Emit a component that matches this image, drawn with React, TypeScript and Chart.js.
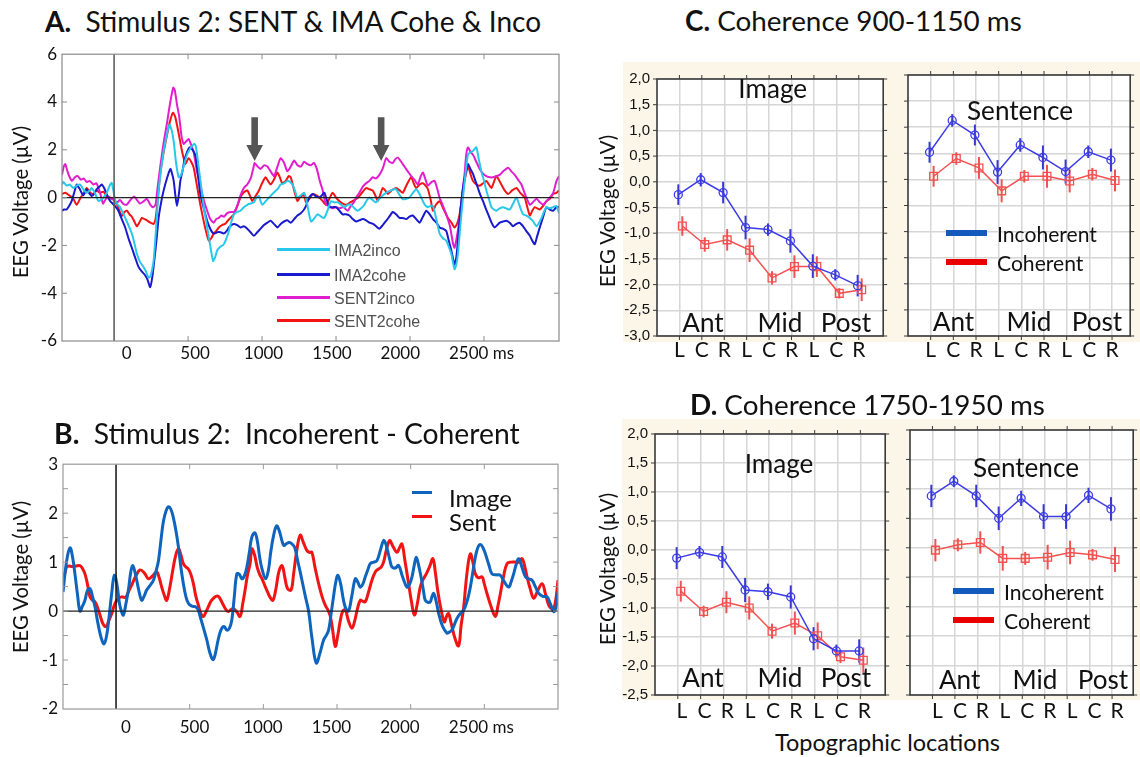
import React, { useEffect, useRef } from 'react';
import { Chart, registerables } from 'chart.js';

Chart.register(...registerables);

type Pt = [number, number];

// ---------------- Panel A : Stimulus 2 ERPs (time ms, µV) ----------------
const aIMA2inco: Pt[] = [
  [-352, 0.55], [-344, 0.65], [-321, 0.5], [-300, 0.55], [-276, 0.4], [-253, 0.5], [-231, 0.55], [-208, 0.35],
  [-185, 0.2], [-165, 0.3], [-152, 0.4], [-130, 0.2], [-106, -0.14], [-90, -0.1], [-72, 0.0], [-50, 0.2],
  [-30, 0.5], [-16, 0.62], [-5, 0.3], [7, -0.1], [25, -0.3], [41, -0.4], [64, -0.7], [86, -1.0], [103, -1.25],
  [120, -1.5], [137, -1.9], [154, -2.35], [176, -2.7], [199, -2.9], [216, -3.1], [233, -3.35], [245, -3.3],
  [256, -3.05], [268, -2.6], [278, -1.8], [290, -0.7], [301, 0.3], [318, 1.2], [335, 1.95], [355, 2.6],
  [375, 3.05], [390, 2.8], [403, 2.35], [418, 1.5], [436, 0.85], [448, 0.9], [459, 1.05], [476, 1.45],
  [493, 1.8], [510, 2.0], [527, 2.15], [540, 2.25], [550, 2.2], [561, 1.8], [572, 1.25], [590, 0.4],
  [606, -0.4], [623, -1.0], [640, -1.65], [655, -2.2], [669, -2.65], [683, -2.5], [697, -2.2], [720, -2.05],
  [742, -1.95], [760, -1.7], [776, -1.4], [793, -1.0], [810, -0.7], [832, -0.6], [855, -0.55], [877, -0.4],
  [900, -0.3], [922, -0.25], [945, -0.2], [962, 0.0], [979, 0.07], [990, -0.15], [1002, -0.3], [1025, -0.15],
  [1047, 0.0], [1070, 0.15], [1092, 0.28], [1110, 0.4], [1126, 0.55], [1150, 0.6], [1171, 0.7], [1190, 0.65],
  [1205, 0.55], [1222, 0.3], [1239, 0.0], [1262, 0.1], [1285, 0.2], [1300, -0.1], [1315, -0.6], [1331, -1.0],
  [1355, -0.85], [1376, -0.7], [1400, -0.8], [1421, -0.85], [1445, -0.5], [1466, -0.15], [1490, -0.2],
  [1511, -0.2], [1535, -0.3], [1556, -0.4], [1580, -0.3], [1601, -0.3], [1625, -0.45], [1646, -0.55],
  [1670, -0.45], [1691, -0.3], [1710, -0.1], [1725, 0.0], [1748, -0.1], [1770, -0.2], [1800, 0.0], [1827, 0.15],
  [1850, 0.25], [1872, 0.3], [1890, 0.35], [1906, 0.35], [1930, 0.1], [1951, -0.07], [1975, -0.05], [1996, 0.0],
  [2020, 0.2], [2042, 0.35], [2060, 0.2], [2076, 0.0], [2100, -0.3], [2121, -0.4], [2140, -0.35], [2155, -0.35],
  [2178, -0.9], [2200, -1.5], [2222, -1.7], [2245, -1.8], [2265, -2.1], [2279, -2.35], [2301, -3.0], [2313, -2.8],
  [2324, -2.35], [2340, -1.2], [2358, 0.0], [2375, 1.0], [2392, 1.8], [2410, 1.9], [2425, 1.95], [2448, 2.1],
  [2465, 1.6], [2482, 1.1], [2500, 0.7], [2516, 0.3], [2533, -0.05], [2550, -0.4], [2567, -0.5], [2584, -0.55],
  [2606, -0.45], [2629, -0.4], [2650, -0.45], [2674, -0.5], [2697, -0.25], [2719, 0.0], [2741, -0.35],
  [2764, -0.7], [2787, -0.75], [2810, -0.85], [2833, -1.0], [2855, -1.2], [2872, -1.05], [2889, -0.85],
  [2905, -0.6], [2922, -0.4], [2945, -0.45], [2967, -0.4], [2990, -0.35], [3007, -0.65],
];

const aIMA2cohe: Pt[] = [
  [-352, -0.55], [-338, -0.5], [-321, -0.5], [-304, -0.35], [-287, -0.15], [-270, 0.2], [-253, 0.55], [-242, 0.45],
  [-231, 0.35], [-220, 0.2], [-208, 0.1], [-197, 0.2], [-185, 0.35], [-170, 0.2], [-152, 0.07], [-135, 0.15],
  [-118, 0.35], [-100, 0.45], [-84, 0.55], [-67, 0.4], [-50, 0.14], [-27, -0.14], [-5, -0.28], [12, -0.4],
  [29, -0.55], [52, -0.9], [75, -1.25], [97, -1.7], [120, -2.1], [142, -2.5], [165, -2.9], [188, -3.1],
  [210, -3.25], [227, -3.45], [244, -3.75], [259, -3.3], [274, -2.5], [288, -1.7], [301, -0.85], [318, -0.2],
  [335, 0.3], [357, 0.8], [380, 1.2], [392, 1.0], [403, 0.7], [414, 0.1], [425, -0.35], [437, 0.1], [448, 0.7],
  [462, 1.1], [475, 1.55], [493, 1.9], [511, 2.1], [530, 2.0], [550, 1.75], [566, 1.0], [583, 0.15], [606, -0.45],
  [629, -0.97], [646, -1.25], [663, -1.45], [680, -1.5], [697, -1.45], [720, -1.45], [742, -1.5], [760, -1.4],
  [776, -1.25], [793, -1.15], [810, -1.1], [832, -1.15], [855, -1.25], [877, -1.2], [900, -1.3], [922, -1.45],
  [945, -1.6], [968, -1.45], [990, -1.3], [1013, -1.15], [1036, -1.05], [1058, -0.97], [1080, -1.1],
  [1104, -1.25], [1126, -1.1], [1149, -1.0], [1171, -0.95], [1194, -1.05], [1217, -0.9], [1239, -0.75],
  [1262, -0.65], [1284, -0.5], [1300, -0.3], [1318, 0.0], [1342, 0.15], [1365, 0.05], [1387, 0.0], [1405, 0.1],
  [1421, 0.2], [1438, -0.1], [1455, -0.4], [1477, -0.4], [1500, -0.4], [1523, -0.55], [1545, -0.7], [1568, -0.7],
  [1590, -0.75], [1613, -0.9], [1635, -1.0], [1658, -0.95], [1681, -0.9], [1703, -0.95], [1726, -1.05],
  [1750, -1.1], [1771, -1.2], [1793, -1.3], [1816, -1.15], [1839, -0.97], [1860, -0.8], [1884, -0.6],
  [1906, -0.7], [1929, -0.85], [1951, -0.85], [1974, -0.9], [1996, -0.8], [2019, -0.75], [2042, -0.9],
  [2065, -1.05], [2087, -0.8], [2110, -0.55], [2133, -0.7], [2155, -0.9], [2178, -1.05], [2200, -1.25],
  [2222, -1.3], [2245, -1.4], [2262, -1.8], [2279, -2.2], [2301, -2.8], [2313, -2.5], [2324, -1.8], [2340, -0.6],
  [2358, 0.4], [2375, 1.0], [2392, 1.4], [2408, 1.2], [2425, 1.0], [2442, 0.7], [2459, 0.4], [2476, 0.1],
  [2493, -0.14], [2515, -0.5], [2538, -0.85], [2555, -1.1], [2572, -1.25], [2590, -1.15], [2606, -1.05],
  [2629, -1.0], [2651, -0.97], [2674, -1.05], [2696, -1.2], [2719, -1.1], [2741, -1.05], [2764, -1.2],
  [2786, -1.4], [2810, -1.6], [2826, -1.8], [2843, -1.95], [2860, -1.6], [2877, -1.25], [2900, -0.8],
  [2922, -0.4], [2945, -0.5], [2967, -0.55], [2990, -0.4], [3007, -0.4],
];

const aSENT2inco: Pt[] = [
  [-352, 0.95], [-340, 1.3], [-330, 1.4], [-315, 1.1], [-300, 0.85], [-285, 0.7], [-265, 0.85], [-245, 0.9],
  [-225, 0.75], [-205, 0.8], [-185, 0.65], [-165, 0.7], [-140, 0.55], [-120, 0.6], [-105, 0.4], [-90, 0.1],
  [-75, -0.25], [-60, -0.1], [-40, 0.05], [-20, -0.05], [0, -0.1], [20, -0.2], [40, -0.1], [60, -0.25],
  [85, -0.3], [110, -0.1], [135, 0.05], [155, -0.1], [175, -0.25], [200, -0.15], [222, -0.05], [245, -0.3],
  [265, -0.4], [280, -0.3], [292, 0.3], [312, 1.3], [335, 2.3], [357, 3.1], [380, 4.0], [400, 4.6], [410, 4.5],
  [425, 3.9], [440, 3.4], [455, 2.6], [470, 2.25], [487, 2.35], [504, 2.45], [521, 2.2], [538, 1.9], [560, 1.1],
  [583, 0.5], [606, -0.1], [629, -0.55], [650, -0.9], [674, -1.05], [690, -0.9], [708, -0.85], [725, -0.75],
  [742, -0.8], [765, -0.65], [787, -0.6], [810, -0.6], [832, -0.35], [855, 0.1], [877, 0.4], [900, 0.55],
  [923, 0.8], [940, 1.2], [950, 1.45], [970, 1.3], [990, 1.2], [1013, 1.35], [1036, 1.3], [1058, 1.1],
  [1081, 0.9], [1104, 1.3], [1126, 1.65], [1149, 1.45], [1171, 1.1], [1194, 1.3], [1217, 1.55], [1240, 1.35],
  [1262, 1.3], [1285, 1.5], [1307, 1.4], [1330, 1.35], [1350, 1.45], [1370, 1.2], [1390, 0.7], [1410, 0.3],
  [1432, -0.3], [1455, -0.35], [1477, -0.45], [1500, -0.4], [1523, -0.45], [1550, -0.4], [1579, -0.55],
  [1600, -0.35], [1620, -0.2], [1640, 0.05], [1658, 0.2], [1680, 0.45], [1703, 0.6], [1725, 0.7], [1748, 0.85],
  [1770, 0.8], [1793, 0.95], [1815, 1.2], [1839, 1.65], [1860, 1.5], [1884, 1.45], [1900, 1.6], [1917, 1.67],
  [1940, 1.5], [1962, 1.3], [1985, 1.1], [2008, 0.9], [2030, 0.75], [2053, 0.55], [2070, 0.85], [2087, 1.05],
  [2105, 0.75], [2121, 0.5], [2145, 0.65], [2166, 0.7], [2185, 0.35], [2200, 0.0], [2220, -0.3], [2245, -0.7],
  [2270, -1.2], [2290, -1.9], [2301, -2.1], [2315, -1.7], [2335, -0.9], [2350, 0.0], [2369, 1.0], [2380, 1.8],
  [2392, 2.1], [2410, 1.9], [2425, 1.8], [2448, 1.5], [2471, 1.2], [2494, 1.0], [2516, 0.9], [2540, 0.85],
  [2561, 0.85], [2585, 0.9], [2606, 0.95], [2630, 1.1], [2663, 1.25], [2685, 1.1], [2708, 0.95], [2730, 0.75],
  [2753, 0.55], [2780, 0.1], [2810, -0.3], [2830, -0.2], [2855, -0.05], [2878, -0.2], [2900, -0.3],
  [2922, -0.15], [2945, 0.0], [2968, 0.2], [2990, 0.7], [3007, 0.9],
];

const aSENT2cohe: Pt[] = [
  [-352, 0.15], [-330, 0.2], [-305, 0.1], [-280, 0.0], [-253, -0.3], [-230, -0.05], [-205, 0.2], [-185, 0.4],
  [-160, 0.2], [-140, 0.15], [-118, 0.3], [-95, 0.2], [-72, 0.25], [-50, 0.05], [-25, 0.0], [-5, -0.07],
  [20, -0.3], [52, -0.76], [70, -0.6], [86, -0.55], [104, -0.7], [120, -0.8], [137, -1.0], [154, -1.2],
  [170, -1.05], [188, -0.85], [205, -0.9], [222, -0.95], [245, -1.05], [267, -1.1], [280, -0.9], [290, -0.4],
  [312, 1.0], [335, 1.9], [357, 2.6], [378, 3.2], [398, 3.55], [412, 3.4], [425, 3.05], [442, 2.5], [459, 1.95],
  [472, 1.6], [482, 1.4], [494, 1.55], [504, 1.65], [521, 1.5], [538, 1.25], [560, 0.5], [583, -0.3],
  [606, -1.0], [625, -1.5], [640, -1.8], [657, -1.7], [674, -1.5], [690, -1.4], [708, -1.25], [730, -1.15],
  [750, -1.1], [764, -1.0], [787, -0.85], [810, -0.7], [830, -0.4], [850, -0.05], [866, 0.14], [883, 0.25],
  [900, 0.3], [917, 0.1], [934, -0.14], [955, 0.05], [979, 0.3], [1000, 0.6], [1024, 0.85], [1040, 0.7],
  [1058, 0.55], [1080, 0.75], [1104, 1.05], [1120, 0.85], [1137, 0.6], [1160, 0.7], [1180, 0.9], [1194, 0.85],
  [1215, 0.35], [1239, -0.14], [1260, 0.05], [1284, 0.1], [1297, -0.2], [1320, -0.05], [1342, 0.15],
  [1365, 0.1], [1387, 0.0], [1410, -0.15], [1432, -0.3], [1455, -0.05], [1477, 0.2], [1500, 0.0], [1523, -0.15],
  [1545, -0.25], [1568, -0.3], [1596, -0.2], [1624, -0.1], [1650, 0.0], [1675, 0.2], [1703, 0.4], [1725, 0.35],
  [1748, 0.3], [1765, 0.1], [1782, -0.14], [1800, 0.15], [1816, 0.4], [1833, 0.3], [1850, 0.15], [1875, 0.3],
  [1906, 0.4], [1930, 0.3], [1951, 0.2], [1975, 0.5], [2008, 0.85], [2025, 0.6], [2042, 0.4], [2065, 0.55],
  [2087, 0.6], [2105, 0.5], [2121, 0.35], [2140, -0.1], [2155, -0.55], [2175, -0.3], [2200, -0.15],
  [2228, -0.5], [2256, -0.85], [2280, -1.05], [2301, -1.25], [2318, -1.1], [2335, -0.7], [2350, -0.1],
  [2369, 0.7], [2392, 1.3], [2408, 1.0], [2425, 0.7], [2448, 0.55], [2471, 0.5], [2494, 0.6], [2516, 0.7],
  [2533, 0.55], [2550, 0.4], [2567, 0.65], [2584, 0.9], [2600, 0.75], [2617, 0.55], [2640, 0.3], [2663, 0.15],
  [2690, 0.3], [2719, 0.4], [2745, 0.2], [2775, 0.0], [2793, -0.4], [2810, -0.75], [2826, -0.55], [2843, -0.4],
  [2860, -0.45], [2877, -0.5], [2900, -0.35], [2922, -0.15], [2945, -0.05], [2967, 0.15], [2990, 0.2],
  [3007, 0.3],
];

// ---------------- Panel B : Incoherent - Coherent difference waves ----------------
const bImage: Pt[] = [
  [-360, 0.39], [-335, 1.03], [-312, 1.29], [-295, 1.1], [-279, 0.76], [-262, 0.35], [-245, 0.0], [-228, 0.1],
  [-211, 0.22], [-194, 0.42], [-177, 0.46], [-160, 0.3], [-143, 0.09], [-126, -0.2], [-109, -0.45], [-95, -0.6],
  [-82, -0.67], [-67, -0.55], [-52, -0.25], [-30, 0.35], [-11, 0.73], [6, 0.55], [23, 0.16], [38, -0.02],
  [50, -0.08], [67, 0.15], [84, 0.43], [100, 0.8], [113, 0.93], [128, 0.8], [145, 0.56], [160, 0.35], [174, 0.22],
  [190, 0.3], [208, 0.43], [230, 0.52], [254, 0.63], [270, 0.8], [288, 1.03], [305, 1.45], [322, 1.84],
  [340, 2.05], [356, 2.13], [372, 2.08], [389, 1.91], [406, 1.65], [424, 1.3], [440, 0.9], [457, 0.56],
  [474, 0.3], [491, 0.16], [515, 0.1], [537, 0.09], [555, 0.04], [571, -0.11], [594, -0.35], [616, -0.59],
  [637, -0.85], [657, -0.99], [670, -0.92], [684, -0.72], [700, -0.5], [718, -0.35], [735, -0.32], [752, -0.39],
  [770, -0.35], [786, -0.18], [803, 0.3], [820, 0.76], [837, 0.75], [854, 0.66], [871, 0.72], [888, 0.9],
  [905, 1.2], [922, 1.51], [942, 1.6], [958, 1.45], [975, 1.1], [991, 0.86], [1016, 0.66], [1035, 0.85],
  [1050, 1.2], [1070, 1.55], [1090, 1.74], [1110, 1.62], [1125, 1.45], [1139, 1.34], [1158, 1.38], [1176, 1.4],
  [1195, 1.37], [1213, 1.3], [1235, 1.0], [1250, 0.8], [1262, 0.63], [1285, 0.3], [1307, 0.0], [1330, -0.55],
  [1359, -1.06], [1385, -0.85], [1409, -0.59], [1426, -0.5], [1443, -0.39], [1460, -0.05], [1476, 0.29],
  [1492, 0.6], [1506, 0.73], [1525, 0.55], [1544, 0.22], [1560, 0.05], [1578, 0.0], [1600, 0.3], [1624, 0.66],
  [1640, 0.6], [1658, 0.49], [1675, 0.55], [1692, 0.7], [1710, 0.85], [1726, 0.97], [1750, 1.0], [1771, 1.03],
  [1795, 1.25], [1816, 1.44], [1830, 1.38], [1843, 1.24], [1858, 1.05], [1873, 0.9], [1895, 0.88], [1918, 0.93],
  [1945, 0.7], [1975, 0.49], [1993, 0.55], [2009, 0.7], [2025, 0.95], [2038, 1.1], [2053, 0.95], [2070, 0.7],
  [2085, 0.45], [2099, 0.22], [2116, 0.18], [2133, 0.19], [2145, 0.3], [2156, 0.36], [2173, 0.2], [2190, -0.05],
  [2215, -0.3], [2246, -0.45], [2262, -0.43], [2280, -0.39], [2296, -0.28], [2314, -0.15], [2337, -0.05],
  [2360, 0.02], [2383, 0.2], [2405, 0.49], [2422, 0.8], [2439, 1.1], [2456, 1.3], [2473, 1.36], [2490, 1.3],
  [2507, 1.17], [2530, 0.95], [2552, 0.76], [2580, 0.74], [2609, 0.73], [2635, 0.6], [2665, 0.49], [2682, 0.6],
  [2699, 0.76], [2716, 0.95], [2733, 1.07], [2755, 0.9], [2779, 0.7], [2800, 0.66], [2824, 0.63], [2846, 0.5],
  [2869, 0.36], [2897, 0.3], [2926, 0.29], [2948, 0.15], [2971, -0.01], [2988, 0.1], [3000, 0.39],
];

const bSent: Pt[] = [
  [-360, 0.63], [-345, 0.8], [-335, 0.9], [-318, 0.92], [-301, 0.91], [-273, 0.92], [-245, 0.93], [-228, 0.87],
  [-211, 0.76], [-194, 0.55], [-177, 0.29], [-160, 0.22], [-143, 0.19], [-126, 0.08], [-109, -0.08],
  [-90, -0.25], [-68, -0.32], [-50, -0.2], [-29, -0.05], [-12, 0.12], [5, 0.22], [22, 0.27], [38, 0.29],
  [55, 0.28], [68, 0.29], [88, 0.42], [106, 0.53], [135, 0.72], [163, 0.84], [192, 0.78], [220, 0.66],
  [248, 0.72], [276, 0.8], [293, 0.68], [310, 0.49], [327, 0.33], [344, 0.22], [366, 0.5], [389, 0.9],
  [406, 1.15], [424, 1.28], [440, 1.15], [457, 0.97], [474, 0.9], [491, 0.86], [508, 0.75], [525, 0.56],
  [542, 0.3], [559, 0.12], [576, -0.05], [593, -0.11], [610, -0.02], [627, 0.09], [644, 0.2], [661, 0.26],
  [678, 0.3], [695, 0.3], [712, 0.22], [729, 0.12], [746, 0.03], [763, -0.01], [780, 0.03], [797, 0.05],
  [820, -0.02], [842, -0.11], [860, 0.15], [876, 0.43], [893, 0.75], [910, 0.97], [922, 1.27], [940, 1.15],
  [958, 0.9], [975, 0.75], [991, 0.66], [1010, 0.52], [1030, 0.38], [1048, 0.27], [1065, 0.22], [1085, 0.45],
  [1105, 0.8], [1127, 0.93], [1145, 0.7], [1164, 0.46], [1188, 0.43], [1205, 0.75], [1225, 1.2], [1250, 1.55],
  [1272, 1.4], [1295, 1.24], [1312, 1.2], [1329, 1.2], [1350, 0.9], [1375, 0.56], [1398, 0.3], [1420, 0.12],
  [1437, 0.03], [1454, -0.1], [1471, -0.4], [1488, -0.72], [1505, -0.5], [1522, -0.2], [1539, 0.0],
  [1556, 0.02], [1578, -0.2], [1601, -0.35], [1620, -0.2], [1639, 0.05], [1658, 0.22], [1675, 0.2],
  [1692, 0.19], [1715, 0.4], [1737, 0.63], [1760, 0.8], [1782, 0.86], [1800, 0.9], [1816, 1.0], [1835, 1.25],
  [1857, 1.44], [1880, 1.32], [1907, 1.2], [1925, 1.3], [1941, 1.37], [1960, 1.05], [1986, 0.56], [2005, 0.2],
  [2025, -0.08], [2045, 0.15], [2065, 0.49], [2085, 0.65], [2106, 0.76], [2130, 0.92], [2151, 1.07],
  [2167, 0.8], [2183, 0.43], [2205, 0.05], [2228, -0.22], [2242, -0.12], [2257, -0.05], [2275, -0.25],
  [2300, -0.55], [2325, -0.71], [2342, -0.3], [2360, 0.09], [2383, 0.8], [2405, 1.17], [2422, 1.0], [2439, 0.76],
  [2460, 0.68], [2484, 0.7], [2500, 0.55], [2518, 0.36], [2545, 0.1], [2575, -0.11], [2592, 0.1], [2609, 0.36],
  [2630, 0.7], [2654, 0.97], [2680, 1.0], [2711, 1.0], [2735, 1.0], [2756, 1.07], [2775, 0.9], [2790, 0.7],
  [2812, 0.45], [2835, 0.26], [2860, 0.4], [2892, 0.56], [2915, 0.35], [2937, 0.12], [2955, 0.05], [2971, 0.05],
  [2988, 0.3], [3000, 0.63],
];

const timeTicks = [0, 500, 1000, 1500, 2000, 2500];
const timeUnit = ' ms';
const arrowTimes = [950, 1805];
const arrowLevels = [3.36, 2.2, 1.53]; // shaft top, head base, tip (µV)

// ---------------- Panels C & D : topographic means ± error ----------------
const locLabels = ['L', 'C', 'R', 'L', 'C', 'R', 'L', 'C', 'R'];
const regionLabels = ['Ant', 'Mid', 'Post'];

const cImageIncoherent = [-0.25, 0.04, -0.21, -0.89, -0.93, -1.15, -1.64, -1.81, -2.02];
const cImageIncoherentErr = [0.2, 0.13, 0.21, 0.23, 0.12, 0.23, 0.23, 0.11, 0.21];
const cImageCoherent = [-0.86, -1.22, -1.13, -1.33, -1.87, -1.65, -1.65, -2.17, -2.1];
const cImageCoherentErr = [0.19, 0.14, 0.21, 0.23, 0.13, 0.22, 0.2, 0.1, 0.22];
const cSentIncoherent = [0.52, 1.13, 0.85, 0.14, 0.66, 0.42, 0.15, 0.53, 0.37];
const cSentIncoherentErr = [0.2, 0.12, 0.2, 0.23, 0.13, 0.23, 0.23, 0.12, 0.22];
const cSentCoherent = [0.06, 0.4, 0.22, -0.22, 0.06, 0.06, -0.03, 0.1, -0.02];
const cSentCoherentErr = [0.2, 0.12, 0.21, 0.22, 0.12, 0.22, 0.22, 0.12, 0.21];

const dImageIncoherent = [-0.14, -0.04, -0.12, -0.69, -0.72, -0.81, -1.53, -1.74, -1.74];
const dImageIncoherentErr = [0.19, 0.11, 0.19, 0.21, 0.14, 0.2, 0.2, 0.11, 0.2];
const dImageCoherent = [-0.71, -1.06, -0.9, -1.0, -1.4, -1.26, -1.48, -1.84, -1.9];
const dImageCoherentErr = [0.18, 0.1, 0.19, 0.2, 0.13, 0.2, 0.23, 0.11, 0.22];
const dSentIncoherent = [0.88, 1.13, 0.88, 0.5, 0.84, 0.53, 0.53, 0.89, 0.66];
const dSentIncoherentErr = [0.19, 0.1, 0.19, 0.2, 0.13, 0.21, 0.21, 0.13, 0.2];
const dSentCoherent = [-0.04, 0.05, 0.09, -0.18, -0.18, -0.16, -0.08, -0.12, -0.2];
const dSentCoherentErr = [0.19, 0.11, 0.19, 0.21, 0.11, 0.21, 0.2, 0.1, 0.21];

// ---------------- styling ----------------
const FONT = 'Lato, "Open Sans", sans-serif';
const ARIAL = '"Liberation Sans", Arial, sans-serif';
const BEIGE = '#fcf6e9';
const CYAN = 'rgb(40,200,235)';
const NAVY = 'rgb(25,25,205)';
const MAGENTA = 'rgb(225,30,205)';
const RED = 'rgb(240,20,20)';
const B_BLUE = 'rgb(15,100,190)';
const CAT_BLUE = 'rgb(60,60,230)';
const CAT_RED = 'rgb(245,80,80)';

// ---------------- helpers ----------------
let mctx: CanvasRenderingContext2D | null = null;
function textW(text: string, weight: number, family: string): number {
  if (!mctx) mctx = document.createElement('canvas').getContext('2d');
  mctx!.font = `${weight} 100px ${family}`;
  return mctx!.measureText(text).width;
}
function fit(parts: [string, number][], family: string, target: number): number {
  const w = parts.reduce((s, [t, wt]) => s + textW(t, wt, family), 0);
  return (100 * target) / w;
}

type Plot = { l: number; t: number; r: number; b: number };
function frameBox(p: Plot, yW: number, xH: number, padTop: number, padRight: number) {
  return { left: p.l - yW, top: p.t - padTop, width: p.r - p.l + yW + padRight, height: p.b - p.t + padTop + xH };
}

function line(ctx: CanvasRenderingContext2D, x1: number, y1: number, x2: number, y2: number) {
  ctx.beginPath();
  ctx.moveTo(x1, y1);
  ctx.lineTo(x2, y2);
  ctx.stroke();
}

const eegFramePlugin = {
  id: 'eegFrame',
  afterDatasetsDraw(chart: any, _a: any, o: any) {
    const { ctx, chartArea: ca } = chart;
    const x = chart.scales.x;
    const xl = chart.scales.xl;
    const y = chart.scales.y;
    ctx.save();
    // zero line
    ctx.strokeStyle = '#222';
    ctx.lineWidth = 1.2;
    const y0 = y.getPixelForValue(0);
    line(ctx, ca.left, y0, ca.right, y0);
    // stimulus onset
    ctx.strokeStyle = o.onsetColor;
    ctx.lineWidth = 1.5;
    const x0 = x.getPixelForValue(0);
    line(ctx, x0, ca.top, x0, ca.bottom);
    // box
    ctx.strokeStyle = o.boxColor;
    ctx.lineWidth = 1.2;
    ctx.strokeRect(ca.left, ca.top, ca.right - ca.left, ca.bottom - ca.top);
    // inner ticks
    ctx.lineWidth = 1;
    const L = 5;
    for (let v = Math.ceil(y.min / o.yStep) * o.yStep; v < y.max; v += o.yStep) {
      if (v <= y.min) continue;
      const py = y.getPixelForValue(v);
      line(ctx, ca.left, py, ca.left + L, py);
      line(ctx, ca.right - L, py, ca.right, py);
    }
    for (const t of timeTicks) {
      if (t === 0) continue;
      const px = x.getPixelForValue(t);
      line(ctx, px, ca.top, px, ca.top + L);
      line(ctx, px, ca.bottom - L, px, ca.bottom);
    }
    // time labels (last one carries the unit, left-aligned after the number)
    ctx.fillStyle = '#111';
    ctx.font = `17px ${FONT}`;
    ctx.textBaseline = 'top';
    timeTicks.forEach((t, i) => {
      const px = xl.getPixelForValue(t);
      const s = String(t);
      ctx.textAlign = 'center';
      ctx.fillText(s, px, ca.bottom + o.labelPad);
      if (i === timeTicks.length - 1) {
        ctx.textAlign = 'left';
        ctx.fillText(timeUnit, px + ctx.measureText(s).width / 2, ca.bottom + o.labelPad);
      }
    });
    // arrows
    ctx.fillStyle = '#555';
    for (const t of o.arrows) {
      const px = x.getPixelForValue(t);
      const yt = y.getPixelForValue(arrowLevels[0]);
      const yb = y.getPixelForValue(arrowLevels[1]);
      const yp = y.getPixelForValue(arrowLevels[2]);
      ctx.beginPath();
      ctx.moveTo(px - 3.3, yt);
      ctx.lineTo(px + 3.3, yt);
      ctx.lineTo(px + 3.3, yb);
      ctx.lineTo(px + 8.3, yb);
      ctx.lineTo(px, yp);
      ctx.lineTo(px - 8.3, yb);
      ctx.lineTo(px - 3.3, yb);
      ctx.closePath();
      ctx.fill();
    }
    ctx.restore();
  },
};

const catFramePlugin = {
  id: 'catFrame',
  beforeDraw(chart: any) {
    const { ctx, chartArea: ca } = chart;
    ctx.save();
    ctx.fillStyle = '#fff';
    ctx.fillRect(ca.left, ca.top, ca.right - ca.left, ca.bottom - ca.top);
    ctx.restore();
  },
  beforeDatasetsDraw(chart: any) {
    const { ctx } = chart;
    const x = chart.scales.x;
    const y = chart.scales.y;
    ctx.save();
    ctx.lineWidth = 2;
    chart.data.datasets.forEach((ds: any) => {
      ctx.strokeStyle = ds.errColor;
      ds.data.forEach((pt: any, j: number) => {
        const e = ds.errors[j];
        const px = x.getPixelForValue(pt.x);
        line(ctx, px, y.getPixelForValue(pt.y - e), px, y.getPixelForValue(pt.y + e));
      });
    });
    ctx.restore();
  },
  afterDraw(chart: any) {
    const { ctx, chartArea: ca } = chart;
    const x = chart.scales.x;
    const y = chart.scales.y;
    ctx.save();
    ctx.strokeStyle = '#3a3a3a';
    ctx.lineWidth = 1.6;
    ctx.strokeRect(ca.left, ca.top, ca.right - ca.left, ca.bottom - ca.top);
    ctx.lineWidth = 1;
    const L = 4;
    for (let v = y.min; v <= y.max + 1e-9; v += 0.5) {
      const py = y.getPixelForValue(v);
      line(ctx, ca.left - L, py, ca.left, py);
      line(ctx, ca.right, py, ca.right + L, py);
    }
    locLabels.forEach((_, i) => {
      const px = x.getPixelForValue(i);
      line(ctx, px, ca.top - L, px, ca.top);
      line(ctx, px, ca.bottom, px, ca.bottom + L);
    });
    ctx.restore();
  },
};

function eegConfig(p: any) {
  return {
    type: 'line',
    data: {
      datasets: p.series.map((s: any) => ({
        label: s.label,
        data: s.data.map(([t, v]: Pt) => ({ x: t, y: v })),
        borderColor: s.color,
        borderWidth: s.width,
        pointRadius: 0,
        tension: p.tension,
        fill: false,
      })),
    },
    options: {
      responsive: false,
      animation: false,
      devicePixelRatio: 1,
      layout: { padding: { top: p.padTop, right: p.padRight, left: 0, bottom: 0 } },
      plugins: {
        legend: { display: false },
        tooltip: { enabled: false },
        eegFrame: { onsetColor: p.onsetColor, boxColor: p.boxColor, yStep: p.innerStep, arrows: p.arrows, labelPad: p.labelPad },
      },
      scales: {
        x: { type: 'linear', min: p.xMin, max: p.xMax, display: false },
        xl: {
          type: 'linear',
          axis: 'x',
          position: 'bottom',
          min: p.lMin,
          max: p.lMax,
          afterBuildTicks: (s: any) => {
            s.ticks = timeTicks.map((v) => ({ value: v }));
          },
          afterFit: (s: any) => {
            s.height = p.xH;
          },
          grid: { display: false, drawTicks: false },
          border: { display: false },
          ticks: { display: false },
        },
        y: {
          type: 'linear',
          min: p.yMin,
          max: p.yMax,
          afterFit: (s: any) => {
            s.width = p.yW;
          },
          grid: { display: false, drawTicks: false },
          border: { display: false },
          ticks: { stepSize: p.yStep, padding: 5, color: '#111', font: { family: FONT, size: 17 } },
        },
      },
    },
    plugins: [eegFramePlugin],
  };
}

function catConfig(p: any) {
  const mk = (vals: number[], errs: number[], shift: number, color: string, errColor: string, style: string, radius: number) => ({
    data: vals.map((v, i) => ({ x: i + shift, y: v })),
    errors: errs,
    errColor,
    borderColor: color,
    borderWidth: 1.5,
    pointStyle: style,
    pointRadius: radius,
    pointBorderColor: color,
    pointBackgroundColor: 'rgba(0,0,0,0)',
    pointBorderWidth: 1.3,
    tension: 0,
    fill: false,
  });
  return {
    type: 'line',
    data: {
      datasets: [
        mk(p.inco, p.incoErr, -0.05, CAT_BLUE, 'rgba(35,35,205,0.9)', 'circle', 4),
        mk(p.cohe, p.coheErr, 0.13, CAT_RED, 'rgba(235,40,40,0.8)', 'rect', 5.5),
      ],
    },
    options: {
      responsive: false,
      animation: false,
      devicePixelRatio: 1,
      layout: { padding: { top: p.padTop, right: p.padRight, left: 0, bottom: 0 } },
      plugins: { legend: { display: false }, tooltip: { enabled: false } },
      scales: {
        x: {
          type: 'linear',
          min: -1,
          max: p.xMax,
          afterBuildTicks: (s: any) => {
            s.ticks = locLabels.map((_, i) => ({ value: i }));
          },
          afterFit: (s: any) => {
            s.height = p.xH;
          },
          grid: { color: '#d6d6d6', lineWidth: 1.5, drawTicks: false },
          border: { display: false },
          ticks: {
            padding: p.xPad,
            labelOffset: p.labelOffset,
            autoSkip: false,
            maxRotation: 0,
            color: '#111',
            font: { family: FONT, size: 21 },
            callback: (v: number) => locLabels[v] ?? '',
          },
        },
        y: {
          type: 'linear',
          min: p.yMin,
          max: p.yMax,
          afterFit: (s: any) => {
            s.width = p.yW;
          },
          grid: { color: '#d6d6d6', lineWidth: 1.5, drawTicks: false },
          border: { display: false },
          ticks: {
            display: p.showY,
            stepSize: 0.5,
            padding: 7,
            color: '#111',
            font: { family: ARIAL, size: 15 },
            callback: (v: number) => (Math.abs(v) < 1e-9 ? 0 : v).toFixed(1).replace('.', ','),
          },
        },
      },
    },
    plugins: [catFramePlugin],
  };
}

function ChartCanvas({ box, config }: { box: any; config: any }) {
  const ref = useRef<HTMLCanvasElement>(null);
  useEffect(() => {
    const c = new Chart(ref.current as HTMLCanvasElement, config as any);
    return () => c.destroy();
  }, []);
  return (
    <canvas
      ref={ref}
      width={box.width}
      height={box.height}
      style={{ position: 'absolute', left: box.left, top: box.top, width: box.width, height: box.height }}
    />
  );
}

function Txt(props: any) {
  const { x, y, size, children, anchor = 'center', weight = 400, color = '#111', family = FONT, rotate = 0 } = props;
  const tx = anchor === 'center' ? '-50%' : '0';
  return (
    <div
      style={{
        position: 'absolute',
        left: x,
        top: y,
        fontFamily: family,
        fontSize: size,
        fontWeight: weight,
        color,
        lineHeight: 1,
        whiteSpace: 'pre',
        transform: `translate(${tx}, -50%)${rotate ? ` rotate(${rotate}deg)` : ''}`,
        transformOrigin: anchor === 'center' ? '50% 50%' : '0 50%',
      }}
    >
      {children}
    </div>
  );
}

function Title({ x, y, width, lead, rest }: any) {
  const size = fit([[lead, 700], [rest, 400]], FONT, width);
  return (
    <Txt x={x} y={y} size={size} anchor="left">
      <span style={{ fontWeight: 700 }}>{lead}</span>
      {rest}
    </Txt>
  );
}

// ---------------- geometry ----------------
const plotA: Plot = { l: 62, t: 53, r: 559, b: 341 };
const plotB: Plot = { l: 63, t: 463, r: 558, b: 709 };
const plotCI: Plot = { l: 657, t: 75, r: 884, b: 336 };
const plotCS: Plot = { l: 908, t: 75, r: 1131, b: 336 };
const plotDI: Plot = { l: 655, t: 430, r: 886, b: 695 };
const plotDS: Plot = { l: 910, t: 430, r: 1139, b: 695 };

export default function App() {
  useEffect(() => {
    document.body.style.margin = '0';
  }, []);

  const yTitle = 'EEG Voltage (µV)';
  const yTitleSize = fit([[yTitle, 400]], FONT, 153);
  const innerSize = fit([['Sentence', 400]], FONT, 106);
  const legSize = fit([['Incoherent', 400]], FONT, 100);
  const bLegSize = fit([['Image', 400]], FONT, 63);
  const topoSize = fit([['Topographic locations', 400]], FONT, 225);

  const A = frameBox(plotA, 40, 34, 14, 8);
  const B = frameBox(plotB, 40, 34, 14, 8);
  const CI = frameBox(plotCI, 40, 30, 12, 6);
  const CS = frameBox(plotCS, 8, 30, 12, 6);
  const DI = frameBox(plotDI, 40, 30, 12, 6);
  const DS = frameBox(plotDS, 8, 30, 12, 1);

  const aSeries = [
    { label: 'IMA2inco', data: aIMA2inco, color: CYAN, width: 2 },
    { label: 'IMA2cohe', data: aIMA2cohe, color: NAVY, width: 2 },
    { label: 'SENT2inco', data: aSENT2inco, color: MAGENTA, width: 2 },
    { label: 'SENT2cohe', data: aSENT2cohe, color: RED, width: 2 },
  ];
  const bSeries = [
    { label: 'Image', data: bImage, color: B_BLUE, width: 3 },
    { label: 'Sent', data: bSent, color: RED, width: 3 },
  ];

  const aLegendRows = [249.5, 274.5, 297.5, 320.5];

  const regionPos = {
    CI: [[703, 321.7], [780, 321.7], [846, 321.7]],
    CS: [[953.5, 320.7], [1029, 320.7], [1097, 320.7]],
    DI: [[703, 676.7], [780, 676.7], [846, 676.7]],
    DS: [[959.7, 679.3], [1035, 679.3], [1103, 679.3]],
  } as any;

  return (
    <div style={{ position: 'absolute', left: 0, top: 0, width: 1140, height: 757, overflow: 'hidden', background: '#fff' }}>
      <div style={{ position: 'absolute', left: 623, top: 62, width: 517, height: 280, background: BEIGE }} />
      <div style={{ position: 'absolute', left: 622, top: 419, width: 518, height: 281, background: BEIGE }} />

      <ChartCanvas
        box={A}
        config={eegConfig({
          series: aSeries, tension: 0.2, padTop: 14, padRight: 8, xMin: -352, xMax: 3007, lMin: -473, lMax: 3160,
          xH: 34, yW: 40, labelPad: 4, yMin: -6, yMax: 6, yStep: 2, innerStep: 2, onsetColor: '#555', boxColor: '#8a8a8a',
          arrows: arrowTimes,
        })}
      />
      <ChartCanvas
        box={B}
        config={eegConfig({
          series: bSeries, tension: 0.4, padTop: 14, padRight: 8, xMin: -360, xMax: 3000, lMin: -460, lMax: 3154,
          xH: 34, yW: 40, labelPad: 10, yMin: -2, yMax: 3, yStep: 1, innerStep: 0.5, onsetColor: '#111', boxColor: '#9a9a9a',
          arrows: [],
        })}
      />
      <ChartCanvas box={CI} config={catConfig({ inco: cImageIncoherent, incoErr: cImageIncoherentErr, cohe: cImageCoherent, coheErr: cImageCoherentErr, padTop: 12, padRight: 6, xMax: 9.09, xH: 30, yW: 40, xPad: 2, labelOffset: 0, yMin: -3, yMax: 2, showY: true })} />
      <ChartCanvas box={CS} config={catConfig({ inco: cSentIncoherent, incoErr: cSentIncoherentErr, cohe: cSentCoherent, coheErr: cSentCoherentErr, padTop: 12, padRight: 6, xMax: 8.8, xH: 30, yW: 8, xPad: 2, labelOffset: 0, yMin: -3, yMax: 2, showY: false })} />
      <ChartCanvas box={DI} config={catConfig({ inco: dImageIncoherent, incoErr: dImageIncoherentErr, cohe: dImageCoherent, coheErr: dImageCoherentErr, padTop: 12, padRight: 6, xMax: 9.09, xH: 30, yW: 40, xPad: 4, labelOffset: 4, yMin: -2.5, yMax: 2, showY: true })} />
      <ChartCanvas box={DS} config={catConfig({ inco: dSentIncoherent, incoErr: dSentIncoherentErr, cohe: dSentCoherent, coheErr: dSentCoherentErr, padTop: 12, padRight: 1, xMax: 8.94, xH: 30, yW: 8, xPad: 4, labelOffset: 5, yMin: -2.5, yMax: 2, showY: false })} />

      {/* titles */}
      <Title x={45} y={21} width={498} lead="A." rest="  Stimulus 2: SENT & IMA Cohe & Inco" />
      <Title x={54} y={433} width={466} lead="B." rest="  Stimulus 2:  Incoherent - Coherent" />
      <Title x={685} y={21} width={337} lead="C." rest=" Coherence 900-1150 ms" />
      <Title x={690} y={405} width={355} lead="D." rest=" Coherence 1750-1950 ms" />

      {/* y axis titles */}
      <Txt x={20} y={202} size={yTitleSize} rotate={-90}>{yTitle}</Txt>
      <Txt x={20} y={577} size={yTitleSize} rotate={-90}>{yTitle}</Txt>
      <Txt x={607} y={211} size={yTitleSize} rotate={-90}>{yTitle}</Txt>
      <Txt x={607} y={569} size={yTitleSize} rotate={-90}>{yTitle}</Txt>

      {/* panel A legend */}
      {aSeries.map((s, i) => (
        <React.Fragment key={s.label}>
          <div style={{ position: 'absolute', left: 277, top: aLegendRows[i] - 1.5, width: 53, height: 3, background: s.color }} />
          <Txt x={334} y={aLegendRows[i] + 1} size={16} anchor="left" family={ARIAL} color="#505050">{s.label}</Txt>
        </React.Fragment>
      ))}

      {/* panel B legend */}
      <div style={{ position: 'absolute', left: 412, top: 491, width: 20, height: 3, background: B_BLUE }} />
      <div style={{ position: 'absolute', left: 412, top: 514.5, width: 20, height: 3, background: RED }} />
      <Txt x={449} y={498} size={bLegSize} anchor="left">Image</Txt>
      <Txt x={449} y={522} size={bLegSize} anchor="left">Sent</Txt>

      {/* panel C / D inner labels */}
      <Txt x={772.7} y={88.3} size={innerSize}>Image</Txt>
      <Txt x={1020} y={110} size={innerSize}>Sentence</Txt>
      <Txt x={779} y={463.3} size={innerSize}>Image</Txt>
      <Txt x={1026} y={467.3} size={innerSize}>Sentence</Txt>
      {(['CI', 'CS', 'DI', 'DS'] as const).map((k) =>
        regionLabels.map((r, i) => (
          <Txt key={k + r} x={regionPos[k][i][0]} y={regionPos[k][i][1]} size={innerSize}>{r}</Txt>
        ))
      )}

      {/* C / D legends */}
      <div style={{ position: 'absolute', left: 946, top: 230.3, width: 41, height: 6, background: 'rgb(20,90,190)' }} />
      <div style={{ position: 'absolute', left: 946, top: 259.3, width: 41, height: 6, background: 'rgb(235,0,0)' }} />
      <Txt x={997} y={234} size={legSize} anchor="left">Incoherent</Txt>
      <Txt x={997} y={263} size={legSize} anchor="left">Coherent</Txt>
      <div style={{ position: 'absolute', left: 953, top: 587.7, width: 41, height: 6, background: 'rgb(20,90,190)' }} />
      <div style={{ position: 'absolute', left: 953, top: 617, width: 41, height: 6, background: 'rgb(235,0,0)' }} />
      <Txt x={1004} y={591.5} size={legSize} anchor="left">Incoherent</Txt>
      <Txt x={1004} y={621} size={legSize} anchor="left">Coherent</Txt>

      <Txt x={887.5} y={743} size={topoSize}>Topographic locations</Txt>
    </div>
  );
}
